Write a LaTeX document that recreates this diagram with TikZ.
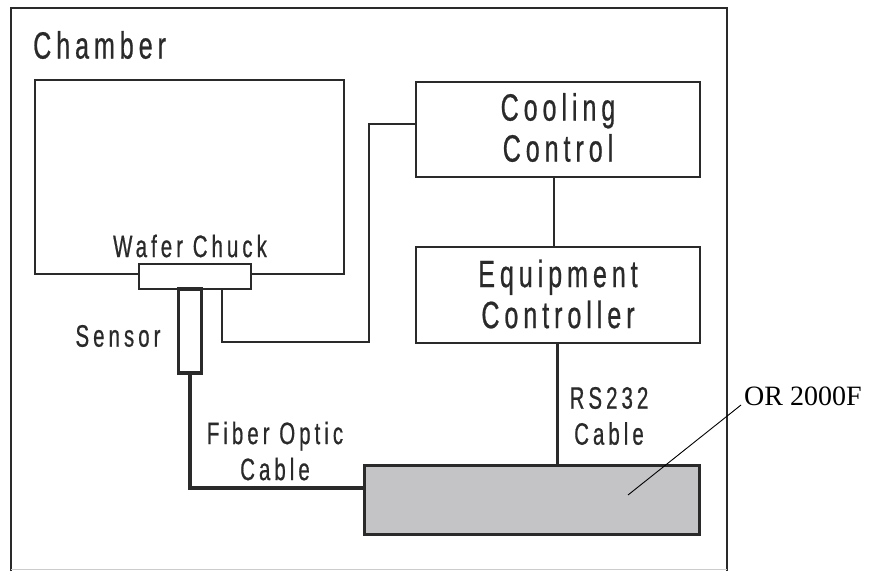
\documentclass[tikz,border=0pt]{standalone}
\usepackage{fontspec}
\setmainfont{Liberation Sans}
\newfontfamily\labfont[FakeStretch=0.66,LetterSpace=13,FakeBold=0.6]{Liberation Sans}
\newfontfamily\serfont{Liberation Serif}
\definecolor{ink}{HTML}{2A2A2A}
\definecolor{orfill}{HTML}{C4C4C6}
\begin{document}
\begin{tikzpicture}[x=1pt,y=-1pt,
  box/.style={draw=ink,line width=1.8pt,fill=white,inner sep=0pt,outer sep=0pt},
  bigtext/.style={text=ink,font=\labfont\fontsize{38}{41}\selectfont,align=center,inner sep=0pt},
  smalltext/.style={text=ink,font=\labfont\fontsize{31}{36}\selectfont,align=center,inner sep=0pt},
  wire/.style={draw=ink,line width=1.8pt},
  thickwire/.style={draw=ink,line width=3.4pt}]
\useasboundingbox (0,0) rectangle (878,571);
% chamber outline
\coordinate (chbl) at (11,571);
\coordinate (chtl) at (11,8);
\coordinate (chtr) at (727,8);
\coordinate (chbr) at (727,571);
\draw[ink,line width=2pt] (chbl) -- (chtl) -- (chtr) -- (chbr);
\draw[black!20,line width=1.5pt] ([yshift=1.5pt]chbl) -- ([yshift=1.5pt]chbr);
\node[bigtext,anchor=west] (chlabel) at (33,45) {Chamber};
% inner chamber box
\node[box,minimum width=309pt,minimum height=194pt] (inner) at (189.5,177) {};
\node[smalltext] (wclabel) at (190,246) {Wafer Chuck};
% chuck
\node[box,minimum width=112pt,minimum height=25pt] (chuck) at (195,276.5) {};
% sensor tube
\node[box,line width=3.4pt,minimum width=22.5pt,minimum height=84pt] (sensor) at (190,331) {};
\node[smalltext] (senslabel) at (118,336) {Sensor};
% cooling & equipment
\node[box,minimum width=284pt,minimum height=95pt] (cool) at (558,129.5) {};
\node[bigtext] at ([yshift=2pt]cool.center) {Cooling\\Control};
\node[box,minimum width=284pt,minimum height=96pt] (equip) at (558,295) {};
\node[bigtext] at ([yshift=1pt]equip.center) {Equipment\\Controller};
% OR 2000F box
\node[box,fill=orfill,line width=3.4pt,minimum width=334.5pt,minimum height=68.5pt] (orbox) at (532,500) {};
% connectors
\draw[wire,line width=2.4pt] ([xshift=-4pt]cool.south) -- ([xshift=-4pt]equip.north);
\draw[thickwire,line width=3pt] ([xshift=-1pt]equip.south) -- ([xshift=-1pt]equip.south |- orbox.north);
\draw[thickwire] (sensor.south) |- ([yshift=12pt]orbox.west);
\coordinate (k1) at (369,342);
\draw[wire] ([yshift=5.5pt]cool.west) -| (k1) -| ([xshift=27pt]chuck.south);
% labels
\node[smalltext] (fiberlabel) at (275,451) {Fiber Optic\\Cable};
\node[smalltext] (rslabel) at (609,416) {RS232\\Cable};
\node[anchor=base west,inner sep=0pt,font=\serfont\fontsize{28}{32}\selectfont] (orlabel) at (744,405) {OR 2000F};
\coordinate (lead) at (628,495);
\draw[black,line width=0.9pt] ([xshift=-3pt]orlabel.base west) -- (lead);
\end{tikzpicture}
\end{document}
